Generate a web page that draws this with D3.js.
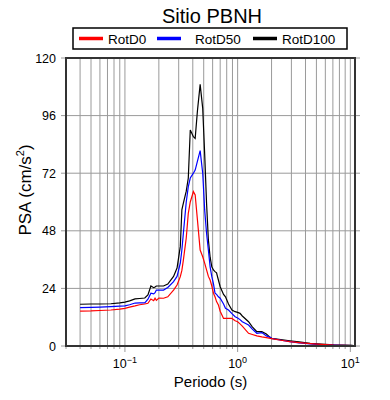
<!DOCTYPE html>
<html>
<head>
<meta charset="utf-8">
<script src="https://cdn.jsdelivr.net/npm/d3@7"></script>
<style>
  body { margin: 0; background: #fff; }
  text { font-family: "Liberation Sans", Arial, sans-serif; fill: #000; }
</style>
</head>
<body>
<div id="chart-area"></div>
<script>
const periods = [0.04, 0.05, 0.06, 0.075, 0.09, 0.1, 0.11, 0.123, 0.135, 0.15, 0.16, 0.17, 0.18, 0.185, 0.19, 0.2, 0.22, 0.24, 0.27, 0.29, 0.31, 0.32, 0.33, 0.35, 0.365, 0.38, 0.405, 0.42, 0.44, 0.465, 0.49, 0.51, 0.53, 0.55, 0.57, 0.59, 0.61, 0.63, 0.65, 0.675, 0.70, 0.75, 0.78, 0.83, 0.89, 0.95, 1.0, 1.05, 1.1, 1.25, 1.35, 1.48, 1.64, 1.8, 1.95, 2.0, 2.5, 2.9, 3.5, 4.4, 5.5, 7.1, 8.5, 10.5];

const rotD0 = [14.5, 14.6, 14.8, 15.0, 15.4, 15.7, 16.2, 16.7, 17.2, 17.5, 17.8, 19.6, 18.9, 19.9, 19.0, 20.0, 19.9, 20.5, 23.3, 25.4, 28.9, 31.5, 35.8, 45.0, 55.3, 60.0, 64.3, 62.9, 52.5, 40.0, 37.2, 34.5, 31.7, 29.0, 27.5, 25.0, 22.0, 20.5, 18.5, 17.1, 14.5, 11.5, 11.5, 11.5, 11.5, 10.5, 10.1, 9.2, 8.3, 5.3, 4.8, 4.2, 3.8, 3.5, 3.2, 3.1, 2.3, 1.8, 1.4, 1.0, 0.7, 0.4, 0.3, 0.2];

const rotD50 = [16.0, 16.1, 16.2, 16.4, 16.6, 16.7, 17.2, 17.9, 18.0, 18.0, 19.5, 22.0, 21.7, 22.2, 23.3, 23.3, 23.3, 24.4, 26.8, 29.0, 34.5, 40.0, 47.0, 60.0, 66.4, 70.0, 72.0, 73.3, 77.0, 81.4, 72.0, 56.7, 47.0, 40.0, 33.0, 28.9, 26.0, 22.0, 21.5, 20.5, 19.9, 17.5, 15.7, 15.0, 13.5, 12.2, 11.7, 11.0, 10.1, 8.75, 7.0, 5.3, 5.6, 4.2, 3.6, 3.2, 2.3, 1.8, 1.3, 0.9, 0.6, 0.4, 0.3, 0.2];

const rotD100 = [17.4, 17.5, 17.5, 17.6, 18.0, 18.3, 18.8, 19.6, 19.8, 20.0, 21.3, 25.0, 24.3, 24.6, 25.0, 25.0, 25.0, 25.8, 29.0, 32.5, 41.5, 56.7, 59.5, 64.5, 70.0, 90.0, 87.2, 86.5, 98.0, 109.0, 99.0, 80.0, 59.5, 44.2, 37.0, 33.0, 31.7, 31.0, 30.5, 27.5, 24.7, 21.5, 20.5, 17.5, 15.0, 14.3, 14.0, 13.6, 12.5, 10.1, 8.0, 6.0, 6.0, 5.0, 3.5, 3.2, 2.6, 2.2, 1.7, 1.1, 0.8, 0.5, 0.4, 0.3];

const seriesNames = ['RotD0', 'RotD50', 'RotD100'];
const seriesColors = ['#ff0000', '#0000ff', '#000000'];
const yTicks = [0, 24, 48, 72, 96, 120];
const xMajor = [0.1, 1, 10];
const xExponents = ['\u22121', '0', '1'];

const margin = { top: 58, right: 35, bottom: 54, left: 66 };
const width = 390 - margin.left - margin.right;
const height = 400 - margin.top - margin.bottom;

const svg = d3.select('#chart-area')
    .append('svg')
    .attr('width', 390)
    .attr('height', 400);

const chart = svg.append('g')
    .attr('transform', `translate(${margin.left},${margin.top})`);

const x = d3.scaleLog()
    .domain([0.03, 11])
    .range([0, width]);

const y = d3.scaleLinear()
    .domain([0, 120])
    .range([height, 0]);

// grid
const minor = x.ticks();
chart.append('g')
    .selectAll('line')
    .data(minor)
    .enter().append('line')
    .attr('x1', d => x(d)).attr('x2', d => x(d))
    .attr('y1', 0)
    .attr('y2', d => height + (xMajor.includes(d) ? 6 : 3))
    .attr('stroke', '#9a9a9a')
    .attr('stroke-width', 1);

chart.append('g')
    .selectAll('line')
    .data(yTicks)
    .enter().append('line')
    .attr('x1', -5).attr('x2', width + 5)
    .attr('y1', d => y(d)).attr('y2', d => y(d))
    .attr('stroke', '#9a9a9a')
    .attr('stroke-width', 1);

// curves
const line = d3.line()
    .x((d, i) => x(periods[i]))
    .y(d => y(d));

[rotD100, rotD50, rotD0].forEach((vals, k) => {
    chart.append('path')
        .datum(vals)
        .attr('fill', 'none')
        .attr('stroke', seriesColors[2 - k])
        .attr('stroke-width', 1.2)
        .attr('d', line);
});

// frame
chart.append('rect')
    .attr('x', 0).attr('y', 0)
    .attr('width', width).attr('height', height)
    .attr('fill', 'none')
    .attr('stroke', '#333')
    .attr('stroke-width', 2);

// y tick labels
chart.append('g')
    .selectAll('text')
    .data(yTicks)
    .enter().append('text')
    .attr('x', -10)
    .attr('y', d => y(d) + 4.5)
    .attr('text-anchor', 'end')
    .style('font-size', '12.5px')
    .text(d => d);

// x tick labels
const xl = chart.append('g')
    .selectAll('text')
    .data(xMajor)
    .enter().append('text')
    .attr('x', d => x(d))
    .attr('y', height + 22)
    .attr('text-anchor', 'middle')
    .style('font-size', '12.5px');
xl.append('tspan').text('10');
xl.append('tspan')
    .attr('dy', -5)
    .style('font-size', '9px')
    .text((d, i) => xExponents[i]);

// axis titles
svg.append('text')
    .attr('x', margin.left + width / 2)
    .attr('y', 387)
    .attr('text-anchor', 'middle')
    .style('font-size', '15px')
    .text('Periodo (s)');

const yl = svg.append('text')
    .attr('transform', 'translate(31,190) rotate(-90)')
    .attr('text-anchor', 'middle')
    .style('font-size', '17px');
yl.append('tspan').text('PSA (cm/s');
yl.append('tspan').attr('dy', -7).style('font-size', '11px').text('2');
yl.append('tspan').attr('dy', 7).text(')');

// title
svg.append('text')
    .attr('x', 212)
    .attr('y', 23)
    .attr('text-anchor', 'middle')
    .style('font-size', '20px')
    .text('Sitio PBNH');

// legend
const legend = svg.append('g');
legend.append('rect')
    .attr('x', 73).attr('y', 28)
    .attr('width', 274).attr('height', 21)
    .attr('fill', '#fff')
    .attr('stroke', '#000')
    .attr('stroke-width', 1.5);

const legX = [79, 157, 253];
seriesNames.forEach((name, i) => {
    legend.append('line')
        .attr('x1', legX[i]).attr('x2', legX[i] + 24)
        .attr('y1', 38.5).attr('y2', 38.5)
        .attr('stroke', seriesColors[i])
        .attr('stroke-width', 3.5);
    legend.append('text')
        .attr('x', legX[i] + (i === 1 ? 38 : 29))
        .attr('y', 43.5)
        .style('font-size', '13.5px')
        .text(name);
});
</script>
</body>
</html>
